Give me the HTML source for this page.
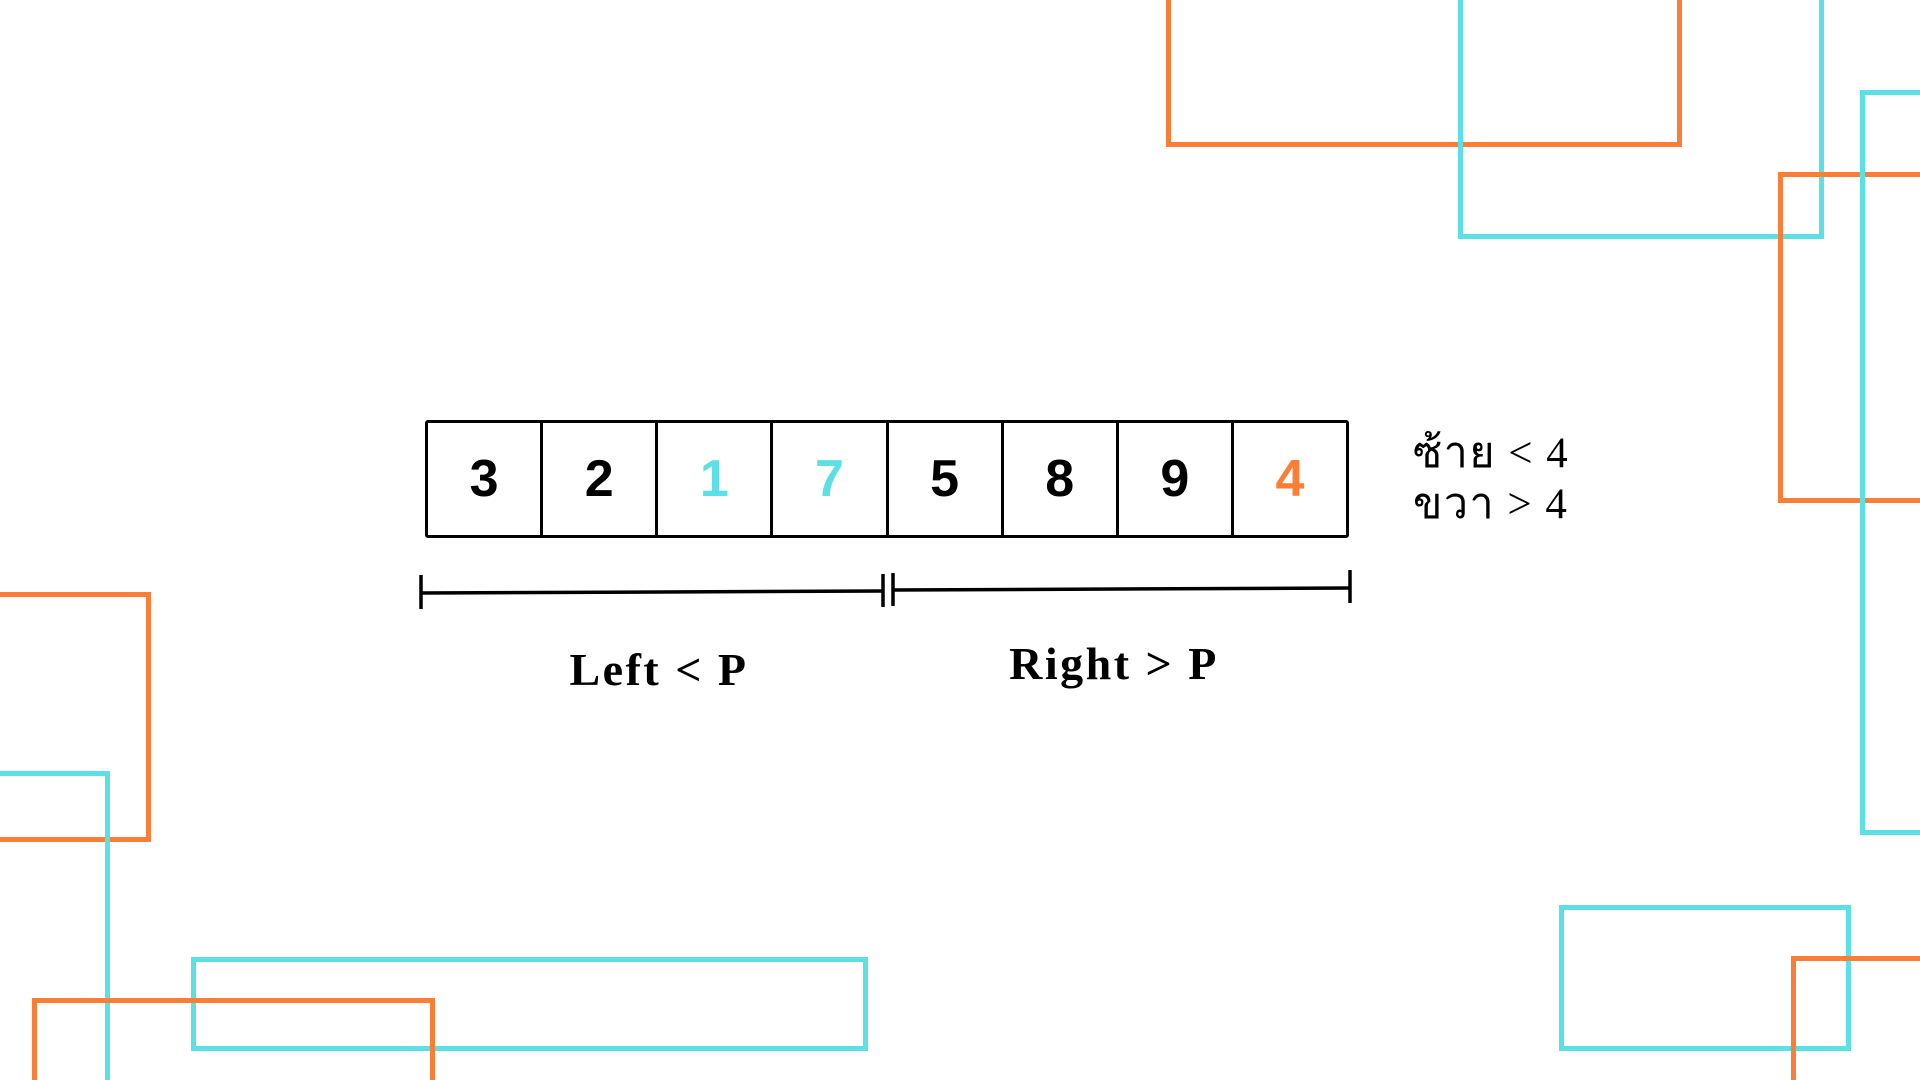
<!DOCTYPE html>
<html><head><meta charset="utf-8">
<style>
html,body{margin:0;padding:0;width:1920px;height:1080px;overflow:hidden;background:#fff;position:relative}
#wrap{position:absolute;left:0;top:0;width:1920px;height:1080px;overflow:hidden}
.r{position:absolute;box-sizing:border-box;border:5px solid}
.o{border-color:#fa7e35}.c{border-color:#5ddfe6}
#cells{position:absolute;left:425px;top:420px;width:924px;height:118px;display:flex;border:3px solid #000;border-radius:3px;box-sizing:border-box}
.cell{flex:1;border-right:3px solid #000;display:flex;align-items:center;justify-content:center;font:900 52px "Liberation Sans",sans-serif}
.cell:last-child{border-right:none}
</style></head><body>
<div id="wrap">
<div class="r o" style="left:1166px;top:0;width:516px;height:147px;border-top:none"></div>
<div class="r c" style="left:1458px;top:0;width:366px;height:239px;border-top:none"></div>
<div class="r o" style="left:1778px;top:172px;width:142px;height:331px;border-right:none"></div>
<div class="r c" style="left:1860px;top:90px;width:60px;height:745px;border-right:none"></div>
<div class="r o" style="left:0;top:592px;width:151px;height:250px;border-left:none"></div>
<div class="r c" style="left:0;top:771px;width:110px;height:309px;border-left:none;border-bottom:none"></div>
<div class="r c" style="left:191px;top:957px;width:677px;height:94px"></div>
<div class="r o" style="left:32px;top:998px;width:403px;height:82px;border-bottom:none"></div>
<div class="r c" style="left:1559px;top:905px;width:292px;height:146px"></div>
<div class="r o" style="left:1791px;top:956px;width:129px;height:124px;border-bottom:none;border-right:none"></div>

<div id="cells"></div>

<svg width="1920" height="1080" style="position:absolute;left:0;top:0;display:block">
<g stroke="#000" stroke-width="3.5" fill="none">
<line x1="421" y1="593" x2="883" y2="591"/>
<line x1="421" y1="575" x2="421" y2="609"/>
<line x1="883" y1="574" x2="883" y2="607"/>
<line x1="893" y1="573" x2="893" y2="606"/>
<line x1="893" y1="590" x2="1350" y2="588"/>
<line x1="1350" y1="570" x2="1350" y2="603"/>
</g>
<g font-family="'Liberation Serif','Noto Serif CJK SC',serif" font-size="46" font-weight="bold" letter-spacing="2.5" fill="#000" text-anchor="middle">
<text x="659" y="685">Left &lt; P</text>
<text x="1114" y="679">Right &gt; P</text>
</g>
<g font-family="'Liberation Serif','Noto Sans CJK SC',serif" font-size="43" letter-spacing="1.5" fill="#000">
<text x="1413" y="467">ซ้าย &lt; 4</text>
<text x="1413" y="518">ขวา &gt; 4</text>
</g>
</svg>
</div>
<script>
const values=[3,2,1,7,5,8,9,4];
const colors=['#000','#000','#5ddfe6','#5ddfe6','#000','#000','#000','#fa7e35'];
const box=document.getElementById('cells');
values.forEach((v,i)=>{
 const d=document.createElement('div');
 d.className='cell';
 
 
 d.style.color=colors[i];
 d.textContent=v;
 box.appendChild(d);
});
</script>
</body></html>
